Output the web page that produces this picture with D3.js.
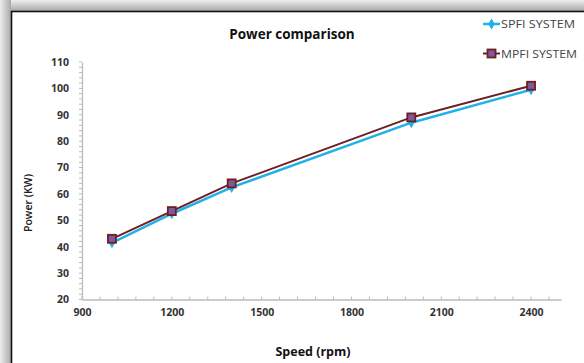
<!DOCTYPE html>
<html><head><meta charset="utf-8">
<script src="https://cdn.jsdelivr.net/npm/d3@7"></script>
<style>body{margin:0;background:#fff}svg{display:block}</style>
</head><body><svg id="c" width="584" height="363"></svg>
<script>
const speeds = [1000, 1200, 1400, 2000, 2400];
const spfi = [41.5, 52.5, 62.5, 87, 99.5];
const mpfi = [43, 53.5, 64, 89, 101];
const xTicks = [900, 1200, 1500, 1800, 2100, 2400];
const yTicks = [20, 30, 40, 50, 60, 70, 80, 90, 100, 110];
const seriesNames = ["SPFI SYSTEM", "MPFI SYSTEM"];

const svg = d3.select("#c");
const defs = svg.append("defs");
const gt = defs.append("linearGradient").attr("id","gt").attr("x1",0).attr("y1",0).attr("x2",0).attr("y2",1);
gt.append("stop").attr("offset","0").attr("stop-color","#eeeeee");
gt.append("stop").attr("offset","1").attr("stop-color","#a8a8a8");
const gl = defs.append("linearGradient").attr("id","gl").attr("x1",0).attr("y1",0).attr("x2",1).attr("y2",0);
gl.append("stop").attr("offset","0").attr("stop-color","#eeeeee");
gl.append("stop").attr("offset","1").attr("stop-color","#a8a8a8");

svg.append("rect").attr("x",0).attr("y",0).attr("width",584).attr("height",11).attr("fill","url(#gt)");
svg.append("rect").attr("x",0).attr("y",0).attr("width",11).attr("height",363).attr("fill","url(#gl)");
svg.append("rect").attr("x",11.5).attr("y",11.5).attr("width",600).attr("height",400)
  .attr("fill","#fff").attr("stroke","#111").attr("stroke-width",1.6);

const x = d3.scaleLinear().domain([900, 2500]).range([82, 561]);
const y = d3.scaleLinear().domain([20, 110]).range([299.5, 62]);

// minor ticks
const g = svg.append("g");
g.selectAll(".mx").data(d3.range(900, 2500, 60)).enter().append("line")
  .attr("x1", d=>x(d)).attr("x2", d=>x(d)).attr("y1", y(20)).attr("y2", y(20)-3)
  .attr("stroke","#bbb").attr("stroke-width",1);
g.selectAll(".my").data(d3.range(20, 111, 2)).enter().append("line")
  .attr("x1", x(900)-3).attr("x2", x(900)).attr("y1", d=>y(d)).attr("y2", d=>y(d))
  .attr("stroke","#bbb").attr("stroke-width",1);

// axes
const xAxis = d3.axisBottom(x).tickValues(xTicks).tickFormat(d3.format("d")).tickSize(0).tickPadding(9);
const xa = svg.append("g").attr("transform",`translate(0,${y(20)})`).call(xAxis);
xa.select(".domain").attr("stroke","#bbb").attr("stroke-width",1.3);
xa.selectAll("text").attr("font-family","Open Sans").attr("font-weight","bold").attr("font-size","10.5px").attr("fill","#333");

const yAxis = d3.axisLeft(y).tickValues(yTicks).tickFormat(d3.format("d")).tickSize(0).tickPadding(13);
const ya = svg.append("g").attr("transform",`translate(${x(900)},0)`).call(yAxis);
ya.select(".domain").attr("stroke","#bbb").attr("stroke-width",1.3);
ya.selectAll("text").attr("font-family","Open Sans").attr("font-weight","bold").attr("font-size","10.5px").attr("fill","#333");

// title & labels
svg.append("text").attr("x",292).attr("y",39).attr("text-anchor","middle")
  .attr("font-family","Open Sans").attr("font-weight","bold").attr("font-size","13.5px").attr("fill","#111")
  .text("Power comparison");
svg.append("text").attr("x",313).attr("y",356).attr("text-anchor","middle")
  .attr("font-family","Open Sans").attr("font-weight","bold").attr("font-size","12.5px").attr("fill","#111")
  .text("Speed (rpm)");
svg.append("text").attr("transform","translate(32,203) rotate(-90)").attr("text-anchor","middle")
  .attr("font-family","Open Sans").attr("font-weight","600").attr("font-size","10.5px").attr("fill","#222")
  .text("Power (KW)");

const line = d3.line().x(d=>x(d[0])).y(d=>y(d[1]));
const sData = speeds.map((s,i)=>[s, spfi[i]]);
const mData = speeds.map((s,i)=>[s, mpfi[i]]);
const blue = "#22b0ea", maroon = "#6e1f22", purple = "#7a5a9c";

svg.append("path").datum(sData).attr("d",line).attr("fill","none").attr("stroke",blue).attr("stroke-width",2.5);
const diamond = d3.symbol().type(d3.symbolDiamond).size(36);
svg.selectAll(".sd").data(sData).enter().append("path")
  .attr("d",diamond).attr("transform",d=>`translate(${x(d[0])},${y(d[1])})`).attr("fill",blue);

svg.append("path").datum(mData).attr("d",line).attr("fill","none").attr("stroke",maroon).attr("stroke-width",2);
svg.selectAll(".ms").data(mData).enter().append("rect")
  .attr("x",d=>x(d[0])-4).attr("y",d=>y(d[1])-4).attr("width",8).attr("height",8)
  .attr("fill",purple).attr("stroke",maroon).attr("stroke-width",1.8);

// legend
const leg = svg.append("g");
leg.append("line").attr("x1",483).attr("x2",500).attr("y1",24).attr("y2",24).attr("stroke",blue).attr("stroke-width",2.5);
leg.append("path").attr("d",diamond).attr("transform","translate(491.5,24)").attr("fill",blue);
leg.append("text").attr("x",501).attr("y",28).attr("font-family","Open Sans").attr("font-size","11.5px").attr("fill","#444")
  .attr("textLength",74).attr("lengthAdjust","spacingAndGlyphs").text(seriesNames[0]);
leg.append("line").attr("x1",483).attr("x2",500).attr("y1",53.5).attr("y2",53.5).attr("stroke",maroon).attr("stroke-width",2);
leg.append("rect").attr("x",487.5).attr("y",49.5).attr("width",8).attr("height",8).attr("fill",purple).attr("stroke",maroon).attr("stroke-width",1.8);
leg.append("text").attr("x",501).attr("y",57.5).attr("font-family","Open Sans").attr("font-size","11.5px").attr("fill","#444")
  .attr("textLength",76).attr("lengthAdjust","spacingAndGlyphs").text(seriesNames[1]);
</script></body></html>
